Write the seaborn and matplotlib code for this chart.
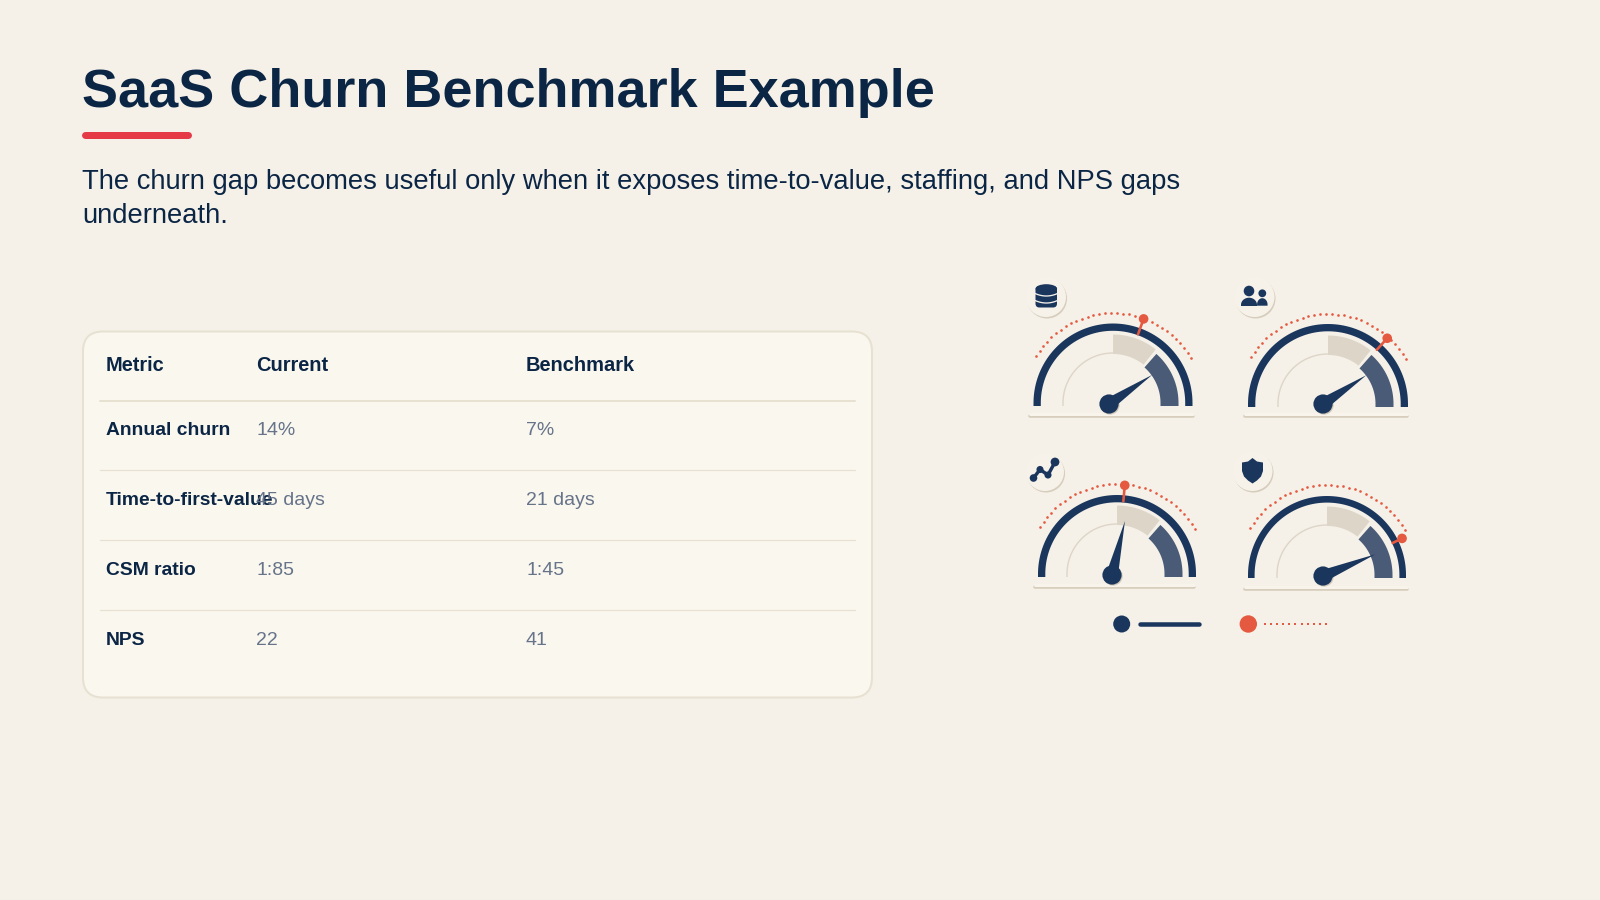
import numpy as np
import pandas as pd
import matplotlib
matplotlib.use("Agg")
import matplotlib.pyplot as plt
from matplotlib.patches import FancyBboxPatch, Polygon, Circle, Ellipse
import seaborn as sns

# ---- content ----
TITLE = "SaaS Churn Benchmark Example"
SUB_1 = "The churn gap becomes useful only when it exposes time-to-value, staffing, and NPS gaps"
SUB_2 = "underneath."
headers = ["Metric", "Current", "Benchmark"]
metrics = ["Annual churn", "Time-to-first-value", "CSM ratio", "NPS"]
current = ["14%", "45 days", "1:85", "22"]
benchmark = ["7%", "21 days", "1:45", "41"]

# gauge readings, degrees on the dial (0 = right, 180 = left)
needle_deg = [34, 33.6, 76.5, 22.5]
pin_deg = [70, 48, 85, 26]

BG = "#f5f1e8"; NAVY = "#1b365d"; INK = "#0b2545"; RED = "#e63946"; PIN = "#e4593f"
BEIGE = "#ddd5c8"; BAND = "#4a5b78"; GREY = "#667389"; CARD = "#faf7ef"; EDGE = "#e7e1d2"
SHADOW = "#d6cdbc"

sns.set_theme(style="white")
plt.rcParams["font.family"] = ["Liberation Sans", "DejaVu Sans"]

fig = plt.figure(figsize=(16, 9), dpi=100, facecolor=BG)
ax = fig.add_axes([0, 0, 1, 1])
ax.set_xlim(0, 1600); ax.set_ylim(900, 0)
ax.set_facecolor(BG); ax.axis("off")
sns.despine(ax=ax, left=True, bottom=True)
PT = 72 / 100  # px to pt

# ---- header ----
ax.text(82, 106.5, TITLE, fontsize=54 * PT, fontweight="bold", color=INK, va="baseline")
ax.plot([85, 188], [134.8, 134.8], color=RED, lw=7 * PT, solid_capstyle="round")
ax.text(82, 189, SUB_1, fontsize=27.4 * PT, color=INK, va="baseline")
ax.text(82, 223, SUB_2, fontsize=27.4 * PT, color=INK, va="baseline")

# ---- table ----
ax.add_patch(FancyBboxPatch((83, 331.5), 789, 366, boxstyle="round,pad=0,rounding_size=20",
                            fc=CARD, ec=EDGE, lw=2 * PT))
col_x = [106, 256, 526]
for x, h in zip(col_x, headers):
    ax.text(x, 371, h, fontsize=20 * PT, fontweight="bold", color=INK, va="baseline")
ax.plot([100, 855], [401, 401], color=EDGE, lw=2 * PT)
row_y = [435, 505, 575, 645]
for i, (y, m, c, b) in enumerate(zip(row_y, metrics, current, benchmark)):
    ax.text(col_x[0], y, m, fontsize=19.3 * PT, fontweight="bold", color=INK, va="baseline")
    ax.text(col_x[1], y, c, fontsize=19.5 * PT, color=GREY, va="baseline")
    ax.text(col_x[2], y, b, fontsize=19.5 * PT, color=GREY, va="baseline")
    if i < 3:
        ax.plot([100, 855], [y + 34.5, y + 34.5], color=EDGE, lw=1.2 * PT)


# ---- gauges ----
def band(cx, cy, r0, r1, a0, a1, drop=0.0, **kw):
    t = np.radians(np.linspace(a0, a1, 90))
    xo, yo = cx + r1 * np.cos(t), cy - r1 * np.sin(t)
    xi, yi = cx + r0 * np.cos(t[::-1]), cy - r0 * np.sin(t[::-1])
    px, py = list(xo), list(yo)
    if drop and a1 == 180:
        px += [xo[-1], xi[0]]; py += [yo[-1] + drop, yi[0] + drop]
    px += list(xi); py += list(yi)
    if drop and a0 == 0:
        px += [xi[-1], xo[0]]; py += [yi[-1] + drop, yo[0] + drop]
    ax.add_patch(Polygon(np.c_[px, py], closed=True, lw=0, **kw))


def gauge(cx, cy, hx, hy, R, sw, plate, need, pin, pin_r, z=3):
    # plate: pale slab with a soft lower edge
    ax.plot([plate[0] + 2, plate[1] - 2], [plate[2] + 0.8, plate[2] + 0.8], color=SHADOW,
            lw=3.6 * PT, solid_capstyle="round", zorder=z)
    ax.plot([plate[0] + 2, plate[1] - 2], [plate[2] - 1.5, plate[2] - 1.5], color="#f8f4ec",
            lw=3 * PT, solid_capstyle="round", zorder=z)
    band(cx, cy, R - sw, R, 0, 180, drop=3, color=NAVY, zorder=z)
    band(cx, cy, 49.3, 50.7, 90, 180, drop=3, color=BEIGE, zorder=z)
    band(cx, cy, 49, 68.5, 51.5, 90, color=BEIGE, zorder=z)
    band(cx, cy, 47.5, 65.5, 0, 48.5, drop=3, color=BAND, zorder=z)
    # dotted scale
    dots = np.arange(30, 150.1, 3.82)
    dots = dots[np.abs(dots - pin) > 2.5]
    sns.scatterplot(x=cx + 90 * np.cos(np.radians(dots)), y=cy - 90 * np.sin(np.radians(dots)),
                    s=3.6, color=PIN, linewidth=0, ax=ax, zorder=z, legend=False)
    # pin
    a = np.radians(pin)
    ax.plot([cx + 73 * np.cos(a), cx + pin_r * np.cos(a)],
            [cy - 73 * np.sin(a), cy - pin_r * np.sin(a)], color=PIN, lw=2.6 * PT, zorder=z + 1)
    ax.add_patch(Circle((cx + pin_r * np.cos(a), cy - pin_r * np.sin(a)), 4.8, fc=PIN, lw=0, zorder=z + 1))
    # needle
    n = np.radians(need[0]); L = need[1]
    ux, uy = np.cos(n), -np.sin(n); vx, vy = -uy, ux
    ax.add_patch(Polygon([[hx + vx * 6, hy + vy * 6], [hx + ux * L, hy + uy * L],
                          [hx - vx * 6, hy - vy * 6]], closed=True, fc=NAVY, lw=0, zorder=z + 2))
    ax.add_patch(Circle((hx + 1, hy + 1), 9.6, fc="#cfc7b8", lw=0, zorder=z + 1))
    ax.add_patch(Circle((hx, hy), 9.6, fc=NAVY, lw=0, zorder=z + 2))


def badge(x, y, r):
    ax.add_patch(Circle((x + 1, y + 1.5), r, fc=SHADOW, lw=0, zorder=3))
    ax.add_patch(Circle((x, y), r, fc="#f6f2ea", lw=0, zorder=3))


centers = [(1113, 403), (1328, 404), (1117, 574), (1327, 575)]
hubs = [(1109, 404), (1323, 404), (1112, 575), (1323, 576)]
plates = [(1028, 1195, 415), (1243, 1409, 415), (1033, 1196, 586), (1243, 1409, 588)]
lengths = [52, 52, 55.5, 57]
radii = [79.5, 80, 79, 79]
stroke = [7.3, 7.3, 7.3, 6.6]
pin_r = [89.5, 88.5, 89, 83.5]
for c, h, p, nd, ln, pd_, r_, s_, pr in zip(centers, hubs, plates, needle_deg, lengths, pin_deg, radii, stroke, pin_r):
    gauge(c[0], c[1], h[0], h[1], r_, s_, p, (nd, ln), pd_, pr)

Z = 5
# database icon
badge(1046, 297, 20)
ax.add_patch(FancyBboxPatch((1035.5, 286), 21.5, 21.5, boxstyle="round,pad=0,rounding_size=4",
                            fc=NAVY, lw=0, zorder=Z))
ax.add_patch(Ellipse((1046.3, 288.7), 21.5, 9, fc=NAVY, ec="none", zorder=Z))
xs = np.linspace(1035, 1057.5, 30)
for yy in (293.5, 300.5):
    ax.plot(xs, yy + 2.5 * (1 - ((xs - 1046.3) / 11.2) ** 2), color="#f6f2ea", lw=1.3 * PT, zorder=Z)

# people icon
badge(1254.5, 297, 20)
for bx, by, r, w, top, bot in ((1249, 291, 5.3, 16, 297.7, 306), (1262.3, 293.3, 3.9, 10.5, 298.2, 305.7)):
    ax.add_patch(Circle((bx, by), r, fc=NAVY, lw=0, zorder=Z))
    tt = np.linspace(0, np.pi, 30)
    pts = np.c_[bx + w / 2 * np.cos(tt), bot - 1.2 - (bot - 1.2 - top) * np.sin(tt)]
    pts = np.vstack([[bx + w / 2, bot], pts, [bx - w / 2, bot]])
    ax.add_patch(Polygon(pts, closed=True, fc=NAVY, lw=0, zorder=Z))

# trend icon
badge(1045, 472, 19)
tx = [1033.5, 1040, 1048, 1055]
ty = [478, 469.5, 475, 462]
ax.plot(tx, ty, color=NAVY, lw=3.4 * PT, zorder=Z)
ax.scatter(tx, ty, s=[30, 26, 26, 40], color=NAVY, linewidth=0, zorder=Z)

# shield icon
badge(1252.5, 471, 20)
right = [(1252.5, 458), (1257, 461.5), (1263, 462.5), (1263, 471), (1261, 476.5), (1257, 480.5), (1252.5, 483.5)]
left = [(2 * 1252.5 - a, b) for a, b in right[::-1]][:-1]
ax.add_patch(Polygon(right + left, closed=True, fc=NAVY, lw=0, zorder=Z))

# ---- key ----
ax.add_patch(Circle((1121.7, 624), 8.5, fc=NAVY, lw=0, zorder=Z))
ax.plot([1139.5, 1199], [624, 624], color=NAVY, lw=4.5 * PT, solid_capstyle="round", zorder=Z)
ax.add_patch(Circle((1248.3, 624), 8.7, fc=PIN, lw=0, zorder=Z))
key_dots = np.arange(1265, 1327, 6.1)
sns.scatterplot(x=key_dots, y=np.full_like(key_dots, 624.0), s=3.6, marker="s", color=PIN,
                linewidth=0, ax=ax, zorder=Z, legend=False)

ax.set_xlim(0, 1600); ax.set_ylim(900, 0)
fig.savefig("out.png", dpi=100, facecolor=BG)
